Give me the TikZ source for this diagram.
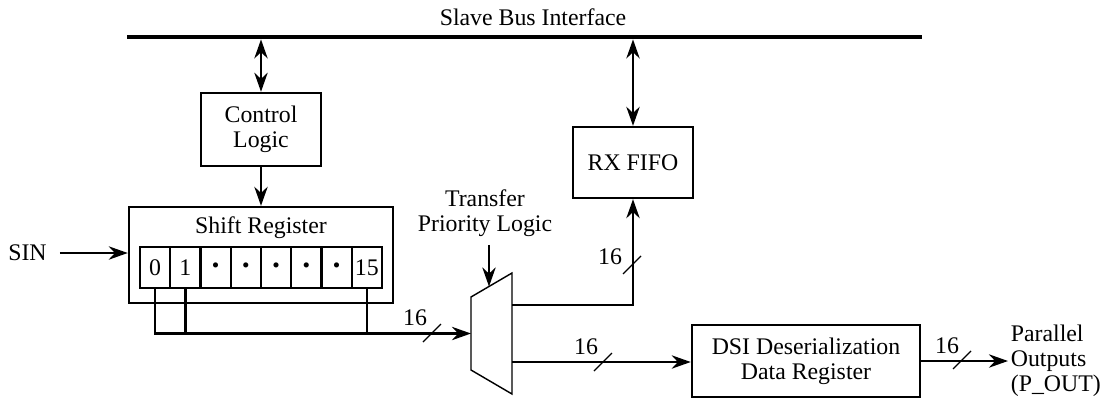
\documentclass[tikz,border=0pt]{standalone}
\usepackage{fontspec}
\setmainfont{Liberation Serif}
\usetikzlibrary{arrows.meta,positioning}

\newcommand{\celldot}{{\small\textbullet}}

\begin{document}
\begin{tikzpicture}[
x=0.42pt, y=-0.42pt,
font=\fontsize{10}{10.5}\selectfont,
box/.style={draw, line width=1pt, inner sep=0pt, align=center},
cell/.style={draw, line width=1pt, inner sep=0pt, minimum width=12.7pt, minimum height=17.2pt},
arrow/.style={-{Stealth[length=8pt,width=5.6pt]}, line width=1pt},
dblarrow/.style={{Stealth[length=8pt,width=5.6pt]}-{Stealth[length=8pt,width=5.6pt]}, line width=1pt},
wire/.style={line width=1pt},
slash/.style={line width=0.5pt}
]
\useasboundingbox (0,0) rectangle (1107,402);

% bus
\coordinate (busL) at (127,37);
\coordinate (busR) at (922,37);
\draw[line width=1.8pt] (busL) -- (busR);
\node (bustitle) at (533,17) {Slave Bus Interface};

% blocks
\node[box, minimum width=50.4pt, minimum height=30.7pt] (ctrl) at (261,129.5) {Control\\ Logic};
\node[box, minimum width=50.4pt, minimum height=29.8pt] (rxfifo) at (633,162.5) {RX FIFO};
\node[box, minimum width=110.9pt, minimum height=40.3pt] (sreg) at (261,255) {};
\node (sregt) at (261,228) {Shift Register};
\foreach \t [count=\i from 0] in {0,1,\celldot,\celldot,\celldot,\celldot,\celldot,15}
  \node[cell] (c\i) at ({140+30.25*(\i+0.5)},267.5) {\t};
\node[box, minimum width=95.8pt, minimum height=30.2pt] (dsi) at (806,361) {DSI Deserialization\\ Data Register};
\node (sin) at (27.5,253) {SIN};
\node[anchor=west, align=left, inner sep=1pt] (pout) at (1008,361) {Parallel\\ Outputs\\ (P\_OUT)};
\node[align=center] (tpl) at (485,213) {Transfer\\ Priority Logic};

% mux
\coordinate (muxin) at (471,333.5);
\coordinate (muxctl) at (489,286.5);
\coordinate (muxup) at (512,305);
\coordinate (muxdn) at (512,362);
\draw[line width=0.6pt] (471,297) -- (512,273) -- (512,394) -- (471,370) -- cycle;

% connections
\draw[dblarrow, shorten <=1pt] (ctrl.north |- busL) -- (ctrl.north);
\draw[dblarrow, shorten <=1pt] (rxfifo.north |- busL) -- (rxfifo.north);
\draw[arrow] (ctrl.south) -- (sreg.north);
\draw[arrow, shorten <=2pt] (sin.east) -- (sreg.west |- sin);
\draw[arrow] (c0.south) |- (muxin);
\draw[wire] (c1.south) -- (c1.south |- muxin);
\draw[wire] (c7.south) -- (c7.south |- muxin);
\draw[arrow] (tpl.south -| muxctl) -- (muxctl);
\draw[arrow] (muxup) -| (rxfifo.south);
\draw[arrow] (muxdn) -- (muxdn -| dsi.west);
\draw[arrow] (dsi.east) -- (pout.west);

% bus width marks
\foreach \sx/\sy/\lx/\ly [count=\k] in {432/333/415/318, 632/265/610/257, 603/362/586/347, 962/360/947/346} {
  \draw[slash] (\sx-9,\sy+9) -- (\sx+9,\sy-9);
  \node (w\k) at (\lx,\ly) {16};
}
\end{tikzpicture}
\end{document}
